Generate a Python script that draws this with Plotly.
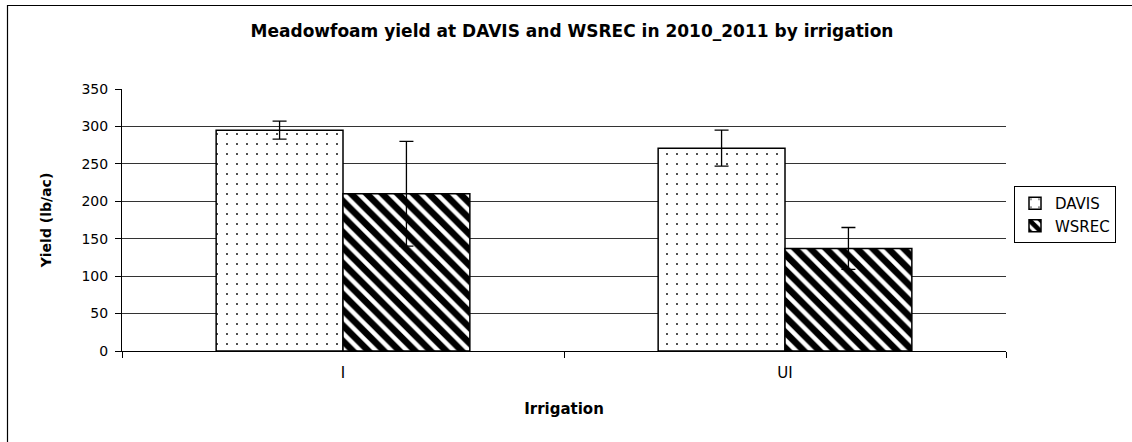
import plotly.graph_objects as go

categories = ["I", "UI"]
davis = [295, 271]
davis_err = [12, 24]
wsrec = [210, 137]
wsrec_err = [70, 28]

W, H = 1132, 442
ml, mr, mt, mb = 122, 126, 89, 91
pw, ph = W - ml - mr, H - mt - mb

FONT = "DejaVu Sans"

fig = go.Figure()
fig.add_trace(go.Bar(
    name="DAVIS", x=categories, y=davis,
    marker=dict(color="white", line=dict(color="black", width=1.5),
                pattern=dict(shape=".", fgcolor="#111111", bgcolor="white", fgopacity=1,
                             size=10, solidity=0.03)),
    error_y=dict(type="data", array=davis_err, color="black", thickness=1.3, width=7),
))
fig.add_trace(go.Bar(
    name="WSREC", x=categories, y=wsrec,
    marker=dict(color="white", line=dict(color="black", width=1.5),
                pattern=dict(shape="\\", fgcolor="black", bgcolor="white", fgopacity=1,
                             size=11, solidity=0.6)),
    error_y=dict(type="data", array=wsrec_err, color="black", thickness=1.3, width=7),
))


def px(x):
    return (x - ml) / pw


def py(y):
    return (H - mb - y) / ph


# outer chart frame (right/bottom edges fall outside the picture)
fig.add_shape(type="rect", xref="paper", yref="paper",
              x0=px(7.5), x1=px(W + 6), y0=py(5.5), y1=py(H + 6),
              line=dict(color="black", width=1.2), fillcolor="rgba(0,0,0,0)", layer="below")

fig.update_layout(
    width=W, height=H,
    margin=dict(l=ml, r=mr, t=mt, b=mb, autoexpand=False),
    paper_bgcolor="white", plot_bgcolor="white",
    font=dict(family=FONT, color="black", size=14),
    title=dict(text="<b>Meadowfoam yield at DAVIS and WSREC in 2010_2011 by irrigation</b>",
               xref="container", x=572 / W, xanchor="center",
               yref="container", y=1 - 31 / H, yanchor="middle",
               font=dict(family=FONT, size=17)),
    barmode="group", bargap=0.426, bargroupgap=0,
    showlegend=True,
    legend=dict(x=px(1014), y=py(186), xanchor="left", yanchor="top",
                bordercolor="black", borderwidth=1, bgcolor="white",
                font=dict(family=FONT, size=15), tracegroupgap=4, itemwidth=30),
    xaxis=dict(showline=True, linecolor="black", linewidth=1, ticks="outside",
               tickson="boundaries", ticklen=6, tickcolor="black", ticklabelstandoff=8,
               title=dict(text="<b>Irrigation</b>", font=dict(family=FONT, size=15), standoff=22),
               tickfont=dict(family=FONT, size=15, color="black"), showgrid=False),
    yaxis=dict(range=[0, 350], dtick=50, showline=True, linecolor="black", linewidth=1,
               ticks="outside", ticklen=6, tickcolor="black", ticklabelstandoff=4,
               showgrid=True, gridcolor="#333333", gridwidth=1,
               title=dict(text="<b>Yield (lb/ac)</b>", font=dict(family=FONT, size=14), standoff=26),
               tickfont=dict(family=FONT, size=14, color="black"), zeroline=False),
)

fig.write_html("out.html", config={"displayModeBar": False},
               post_script="document.body.style.margin='0';document.body.style.padding='0';")
